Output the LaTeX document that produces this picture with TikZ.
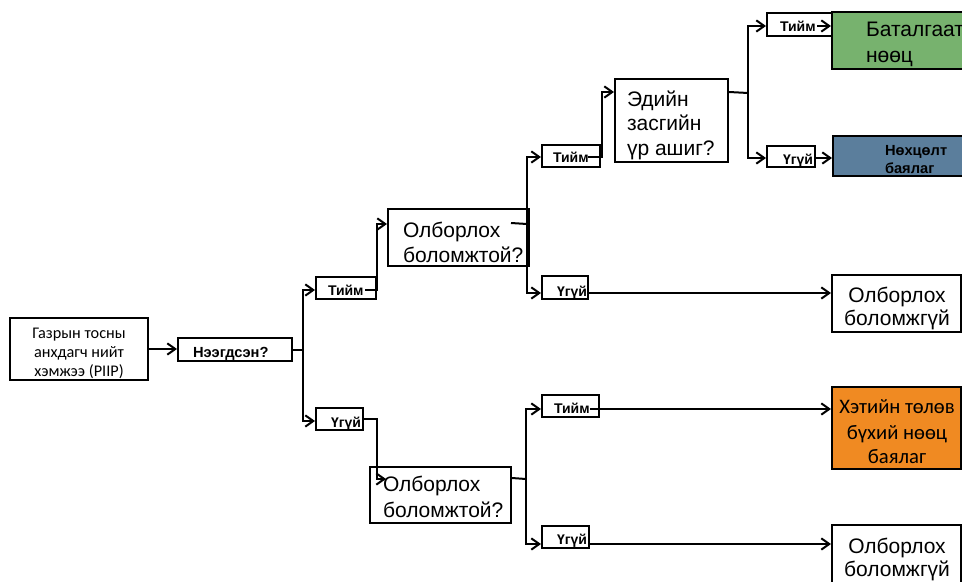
\documentclass[tikz,border=0pt]{standalone}
\usepackage{fontspec}
\setmainfont{Liberation Sans}
\newfontfamily\calfont{Carlito}
\usetikzlibrary{arrows.meta,fit,calc}
\definecolor{provedgreen}{HTML}{77B26E}
\definecolor{condblue}{HTML}{5B7E9C}
\definecolor{prospectorange}{HTML}{F08A22}
\begin{document}
\begin{tikzpicture}[x=0.75pt,y=-0.75pt,line width=1.5pt,
  box/.style={draw=black,line width=1.5pt,inner sep=0pt,rectangle},
  arr/.style={-{Straight Barb[length=6pt,width=8.5pt]}},
  lbl/.style={inner sep=0pt,anchor=base west,font=\bfseries\fontsize{10.5}{12}\selectfont},
  bigl/.style={inner sep=0pt,anchor=base west,font=\fontsize{15.75}{18}\selectfont},
  bigc/.style={inner sep=0pt,anchor=base,font=\fontsize{15.75}{18}\selectfont},
  calt/.style={inner sep=0pt,anchor=base,font=\calfont\fontsize{12.2}{14}\selectfont},
  calbig/.style={inner sep=0pt,anchor=base,font=\calfont\fontsize{15.5}{18}\selectfont},
  boldmid/.style={inner sep=0pt,anchor=base west,font=\bfseries\fontsize{11}{12}\selectfont}
]
\useasboundingbox (0,0) rectangle (962,581);
\clip (0,0) rectangle (962,581);
\fill[white] (0,0) rectangle (962,581);

% ---- boxes ----
\node[box,fit={(10,318)(148,380)}] (src) {};
\node[box,fit={(178,338)(292,361)}] (q1) {};
\node[box,fit={(316,277)(376,299)}] (t1) {};
\node[box,fit={(316,408)(363,430)}] (n1) {};
\node[box,fit={(388,209)(529,266)}] (q2) {};
\node[box,fit={(542,145)(600,167)}] (t2) {};
\node[box,fit={(542,276)(588,299)}] (u2) {};
\node[box,fit={(615,79)(728,162)}] (q3) {};
\node[box,fit={(767,13)(832,36)}] (t3) {};
\node[box,fill=provedgreen,fit={(832,12)(1000,69)}] (green) {};
\node[box,fit={(767,146)(815,167)}] (u3) {};
\node[box,fill=condblue,fit={(833,136)(1000,176)}] (blue) {};
\node[box,fit={(832,275)(960.5,332)}] (r1) {};
\node[box,fit={(370,467)(511,523)}] (q4) {};
\node[box,fit={(542,395)(599,417)}] (t4) {};
\node[box,fill=prospectorange,fit={(832,387)(960.5,469)}] (orange) {};
\node[box,fit={(542,526)(589,548)}] (u4) {};
\node[box,fit={(832,525)(960.5,600)}] (r2) {};

% ---- junction and port points ----
\coordinate (j1) at (303,349.5);
\coordinate (j2) at (527,224);
\coordinate (j3) at (748,93);
\coordinate (j4) at (526,479);
\coordinate (t1o) at ($(t1.east)+(-12,2)$);
\coordinate (t2o) at ($(t2.east)+(-13,1)$);
\coordinate (t3o) at ($(t3.east)+(-16,1.5)$);
\coordinate (t4o) at ($(t4.east)+(-10,3)$);
\coordinate (u2o) at ($(u2.south east)+(0,-7)$);
\coordinate (u3o) at ($(u3.east)+(0,1.5)$);
\coordinate (u4o) at ($(u4.south east)+(0,-5)$);
\coordinate (q2i) at ($(q2.north west)+(0,16)$);
\coordinate (q2o) at ($(q2.north east)+(-19,15)$);
\coordinate (q3i) at ($(q3.north west)+(0,14)$);
\coordinate (q3o) at ($(q3.north east)+(0,14)$);
\coordinate (q4i) at ($(q4.north west)+(17,13)$);
\coordinate (q4o) at ($(q4.north east)+(0,12)$);

% ---- connectors ----
\draw[arr] (src.east) -- (src.east -| q1.west);
\draw (q1.east) -- (j1);
\draw[arr] (j1) |- ($(t1.west)+(0,2)$);
\draw[arr] (j1) |- ($(n1.west)+(0,2)$);

\draw[arr] (t1o) -- (t1o -| t1.east) |- (q2i);
\draw (q2o) -- (j2);
\draw[arr] (j2) |- ($(t2.west)+(0,1)$);
\draw[arr] (j2) |- (u2o -| u2.west);
\draw[arr] (u2o) -- (u2o -| r1.west);

\draw[arr] (t2o) -- ($(t2o -| t2.east)+(1,0)$) |- (q3i);
\draw (q3o) -- (j3);
\draw[arr] (j3) |- (t3o -| t3.west);
\draw[arr] (j3) |- (u3o -| u3.west);
\draw[arr] (t3o) -- (t3o -| green.west);
\draw[arr] (u3o) -- (u3o -| blue.west);

\draw[arr] (n1.east) -- ++(13,0) |- (q4i);
\draw (q4o) -- (j4);
\draw[arr] (j4) |- (t4o -| t4.west);
\draw[arr] (j4) |- (u4o -| u4.west);
\draw[arr] (t4o) -- (t4o -| orange.west);
\draw[arr] (u4o) -- (u4o -| r2.west);

% ---- texts ----
\node[calt] at (79,338) {Газрын тосны};
\node[calt] at (79,357) {анхдагч нийт};
\node[calt] at (79,376) {хэмжээ (PIIP)};

\node[lbl,font=\bfseries\fontsize{11}{12}\selectfont] at (192,357.5) {Нээгдсэн?};

\node[lbl] at (327,295) {Тийм};
\node[lbl] at (330,427) {Үгүй};
\node[lbl] at (552,162) {Тийм};
\node[lbl] at (556,296) {Үгүй};
\node[lbl] at (779,32) {Тийм};
\node[lbl] at (782,164) {Үгүй};
\node[lbl] at (553,413) {Тийм};
\node[lbl] at (556,544) {Үгүй};

\node[bigl] at (402,237) {Олборлох};
\node[bigl] at (402,262) {боломжтой?};
\node[bigl] at (382,491) {Олборлох};
\node[bigl] at (382,517) {боломжтой?};

\node[bigl] at (626,107) {Эдийн};
\node[bigl] at (626,131) {засгийн};
\node[bigl] at (626,155) {үр ашиг?};

\node[bigl] at (865,37) {Баталгаат};
\node[bigl] at (865,63) {нөөц};

\node[boldmid] at (884,156) {Нөхцөлт};
\node[boldmid] at (884,173) {баялаг};

\node[bigc] at (897,302) {Олборлох};
\node[bigc] at (897,325) {боломжгүй};

\node[calbig] at (897,413) {Хэтийн төлөв};
\node[calbig] at (897,439) {бүхий нөөц};
\node[calbig] at (897,463) {баялаг};

\node[bigc] at (897,553) {Олборлох};
\node[bigc] at (897,576) {боломжгүй};
\end{tikzpicture}
\end{document}
